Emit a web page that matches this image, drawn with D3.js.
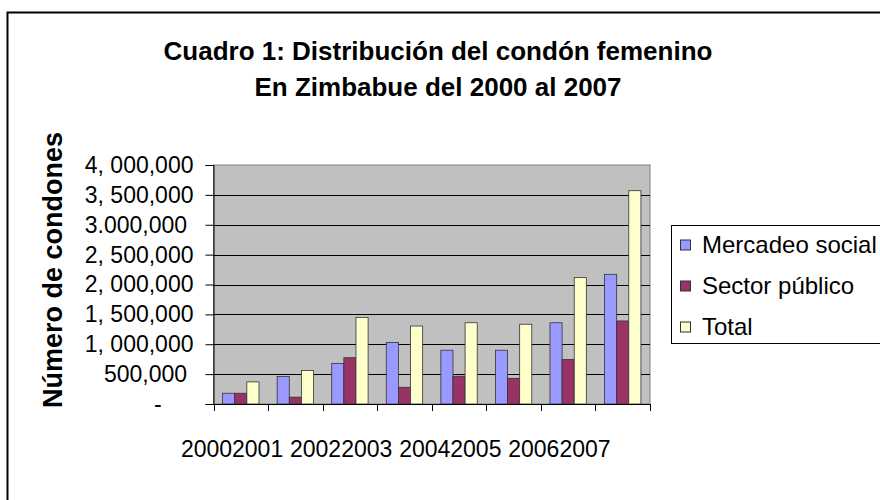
<!DOCTYPE html>
<html><head><meta charset="utf-8">
<script src="https://cdn.jsdelivr.net/npm/d3@7"></script>
<style>body{margin:0;background:#fff}svg{display:block}text{font-family:"Liberation Sans",Arial,sans-serif}</style>
</head><body><svg id="c" width="880" height="500"></svg>
<script>
const categories = ["2000","2001","2002","2003","2004","2005","2006","2007"];
const seriesNames = ["Mercadeo social","Sector público","Total"];
const mercadeo = [180000, 460000, 680000, 1030000, 900000, 900000, 1360000, 2170000];
const sector   = [180000, 115000, 775000, 280000, 465000, 430000, 745000, 1390000];
const total    = [370000, 560000, 1450000, 1305000, 1360000, 1335000, 2115000, 3570000];
const yTicks = [0,500000,1000000,1500000,2000000,2500000,3000000,3500000,4000000];
const yTickLabels = ["-\u00a0\u00a0\u00a0\u00a0\u00a0","500,000\u00a0","1, 000,000","1, 500,000","2, 000,000","2, 500,000","3.000,000\u00a0","3, 500,000","4, 000,000"];
const colors = ["#9999FF","#993366","#FFFFCC"];
const titleLines = ["Cuadro 1: Distribución del condón femenino","En Zimbabue del 2000 al 2007"];
const yTitle = "Número de condones";

const svg = d3.select("#c");
// outer chart border
svg.append("rect").attr("x",7.5).attr("y",12.5).attr("width",900).attr("height",520)
  .attr("fill","#fff").attr("stroke","#000").attr("stroke-width",2);

const L=213.5, R=650, T=165, B=404;
const series = [mercadeo, sector, total];
const x0 = d3.scaleBand().domain(categories).range([L,R]).paddingInner(0).paddingOuter(0);
const x1 = d3.scaleBand().domain(seriesNames).range([0,x0.bandwidth()]).paddingInner(0).paddingOuter(0.75);
const y = d3.scaleLinear().domain([0,4000000]).range([B,T]);

svg.append("rect").attr("x",L).attr("y",T).attr("width",R-L).attr("height",B-T)
  .attr("fill","#C0C0C0").attr("stroke","#808080").attr("stroke-width",1);

// gridlines
svg.append("g").selectAll("line").data(yTicks.slice(1,-1)).join("line")
  .attr("x1",L).attr("x2",R).attr("y1",d=>Math.round(y(d))+0.5).attr("y2",d=>Math.round(y(d))+0.5)
  .attr("stroke","#000").attr("stroke-width",1);

// bars
const g = svg.append("g");
categories.forEach((c,i)=>{
  seriesNames.forEach((s,j)=>{
    g.append("rect")
      .attr("x", x0(c)+x1(s)).attr("width", x1.bandwidth())
      .attr("y", y(series[j][i])).attr("height", B - y(series[j][i]))
      .attr("fill", colors[j]).attr("stroke","#333").attr("stroke-width",0.8);
  });
});

// y axis
const yAxis = d3.axisLeft(y).tickValues(yTicks).tickSize(8).tickPadding(12)
  .tickFormat((d,i)=>yTickLabels[i]);
const ya = svg.append("g").attr("transform",`translate(${L},0)`).call(yAxis);
ya.select(".domain").attr("stroke","#000");
ya.selectAll(".tick line").attr("stroke","#000");
ya.selectAll("text").attr("font-size",23).attr("fill","#000")
  .style("font-family",'"Liberation Sans",Arial,sans-serif').attr("xml:space","preserve");

// x axis: line + ticks at category boundaries
const bounds = categories.map(c=>x0(c)).concat([R]);
svg.append("line").attr("x1",L).attr("x2",R).attr("y1",B+0.5).attr("y2",B+0.5).attr("stroke","#000");
svg.append("g").selectAll("line").data(bounds).join("line")
  .attr("x1",d=>Math.round(d)+0.5).attr("x2",d=>Math.round(d)+0.5).attr("y1",B).attr("y2",B+7).attr("stroke","#000");

// x labels (pairs run together as in the original)
const pairs = d3.range(0,categories.length,2);
svg.append("g").selectAll("text").data(pairs).join("text")
  .attr("x",k=>x0(categories[k])+x0.bandwidth()*0.34).attr("y",457)
  .attr("text-anchor","middle").attr("font-size",23).attr("fill","#000")
  .text(k=>categories[k]+categories[k+1]);

// title
svg.append("g").selectAll("text").data(titleLines).join("text")
  .attr("x",438).attr("y",(d,i)=>60+i*36).attr("text-anchor","middle")
  .attr("font-size",26).attr("font-weight","bold").text(d=>d);

// y title
svg.append("text").attr("transform",`translate(62,270) rotate(-90)`)
  .attr("text-anchor","middle").attr("font-size",27).attr("font-weight","bold").text(yTitle);

// legend
svg.append("rect").attr("x",671.5).attr("y",225.5).attr("width",260).attr("height",118)
  .attr("fill","#fff").attr("stroke","#000").attr("stroke-width",1);
const lg = svg.append("g").selectAll("g").data(seriesNames).join("g")
  .attr("transform",(d,i)=>`translate(680,${244.5+i*41})`);
lg.append("rect").attr("x",0.5).attr("y",-4.5).attr("width",10).attr("height",10)
  .attr("fill",(d,i)=>colors[i]).attr("stroke","#333");
lg.append("text").attr("x",22).attr("y",0).attr("dy","0.35em").attr("font-size",24).text(d=>d);
</script></body></html>
